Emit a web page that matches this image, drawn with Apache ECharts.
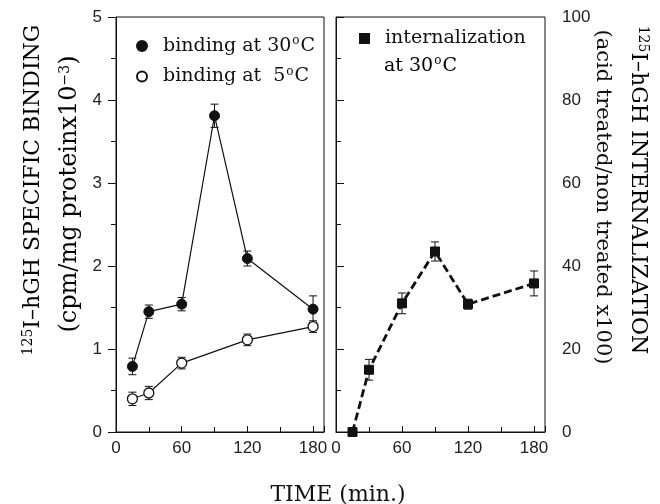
<!DOCTYPE html>
<html>
<head>
<meta charset="utf-8">
<script src="https://cdn.jsdelivr.net/npm/echarts@6/dist/echarts.min.js"></script>
<style>
  html, body { margin: 0; padding: 0; background: #fff; }
  #chart { width: 660px; height: 504px; }
</style>
</head>
<body>
<div id="chart"></div>
<script>
// ---- Data ----
var xTickLabels = [0, 60, 120, 180];
var leftYTicks = [0, 1, 2, 3, 4, 5];
var rightYTicks = [0, 20, 40, 60, 80, 100];

var timeBind30 = [15, 30, 60, 90, 120, 180];
var bind30 = [0.79, 1.45, 1.54, 3.81, 2.09, 1.48];
var bind30Err = [0.10, 0.08, 0.08, 0.14, 0.09, 0.16];

var timeBind5 = [15, 30, 60, 120, 180];
var bind5 = [0.40, 0.47, 0.83, 1.11, 1.27];
var bind5Err = [0.08, 0.08, 0.07, 0.07, 0.07];

var timeIntern = [15, 30, 60, 90, 120, 180];
var intern = [0, 15, 31, 43.5, 30.8, 35.8];
var internErr = [0, 2.5, 2.5, 2.3, 1.2, 3.0];

// ---- helpers ----
function pairs(xs, ys) { return xs.map(function (x, i) { return [x, ys[i]]; }); }
function errData(xs, ys, es) { return xs.map(function (x, i) { return [x, ys[i] - es[i], ys[i] + es[i]]; }); }
function errRender(params, api) {
  var x = api.value(0), lo = api.value(1), hi = api.value(2);
  if (hi - lo <= 0) return;
  var p1 = api.coord([x, lo]), p2 = api.coord([x, hi]);
  var w = 4;
  var st = { stroke: '#111', lineWidth: 1 };
  return { type: 'group', children: [
    { type: 'line', shape: { x1: p1[0], y1: p1[1], x2: p2[0], y2: p2[1] }, style: st },
    { type: 'line', shape: { x1: p1[0] - w, y1: p1[1], x2: p1[0] + w, y2: p1[1] }, style: st },
    { type: 'line', shape: { x1: p2[0] - w, y1: p2[1], x2: p2[0] + w, y2: p2[1] }, style: st }
  ]};
}

var serif = 'DejaVu Serif';
var sans = 'Liberation Sans';
var ink = '#111';

var supRich = {
  n: { fontFamily: serif, fontSize: 19, color: ink },
  sup: { fontFamily: serif, fontSize: 12, color: ink, verticalAlign: 'top', padding: [0, 1, 10, 1] }
};
var legendNames = {
  'b30': 'binding at 30{sup|o}C',
  'b5': 'binding at  5{sup|o}C',
  'int': 'internalization'
};

function xAxisCfg(idx) {
  return {
    type: 'value', gridIndex: idx, min: 0, max: 190, interval: 60,
    axisLine: { show: true, onZero: false, lineStyle: { color: ink, width: 1 } },
    axisTick: { show: true, inside: true, length: 6, lineStyle: { color: ink } },
    minorTick: { show: true, splitNumber: 2, length: 5, lineStyle: { color: ink } },
    axisLabel: {
      fontFamily: sans, fontSize: 17, color: '#222', margin: 8,
      formatter: function (v) { return xTickLabels.indexOf(v) >= 0 ? String(v) : ''; }
    },
    splitLine: { show: false }
  };
}

var titleRich = function (size) {
  return {
    t: { fontFamily: serif, fontSize: size, color: ink },
    sup: { fontFamily: serif, fontSize: 14, color: ink, verticalAlign: 'top', padding: [0, 0, 10, 0] }
  };
};

var option = {
  backgroundColor: '#fff',
  animation: false,
  grid: [
    { left: 116, top: 17, width: 208, height: 415, show: true, borderColor: ink, borderWidth: 1, backgroundColor: 'transparent' },
    { left: 336, top: 17, width: 209, height: 415, show: true, borderColor: ink, borderWidth: 1, backgroundColor: 'transparent' }
  ],
  xAxis: [xAxisCfg(0), xAxisCfg(1)],
  yAxis: [
    {
      type: 'value', gridIndex: 0, min: 0, max: 5, interval: 1, position: 'left',
      axisLine: { show: true, lineStyle: { color: ink } },
      axisTick: { show: true, inside: false, length: 8, lineStyle: { color: ink } },
      minorTick: { show: true, splitNumber: 2, length: 5, lineStyle: { color: ink } },
      axisLabel: { fontFamily: sans, fontSize: 17, color: '#222', margin: 14,
        formatter: function (v) { return leftYTicks.indexOf(v) >= 0 ? String(v) : ''; } },
      splitLine: { show: false }
    },
    {
      type: 'value', gridIndex: 1, min: 0, max: 100, interval: 20, position: 'right',
      axisLine: { show: true, lineStyle: { color: ink } },
      axisTick: { show: true, inside: false, length: 8, lineStyle: { color: ink } },
      minorTick: { show: true, splitNumber: 2, length: 5, lineStyle: { color: ink } },
      axisLabel: { fontFamily: sans, fontSize: 17, color: '#222', margin: 17,
        formatter: function (v) { return rightYTicks.indexOf(v) >= 0 ? String(v) : ''; } },
      splitLine: { show: false }
    }
  ],
  legend: [
    {
      data: ['b30', 'b5'], orient: 'vertical', left: 131, top: 30,
      itemWidth: 10, itemHeight: 10, itemGap: 10,
      icon: 'circle',
      formatter: function (n) { return '{n|' + legendNames[n].replace(/\{sup\|o\}C/, '}{sup|o}{n|C') + '}'; },
      textStyle: { rich: supRich, padding: [0, 0, 0, 11] }
    },
    {
      data: ['int'], orient: 'vertical', left: 354, top: 24,
      itemWidth: 9, itemHeight: 9,
      icon: 'rect',
      formatter: function (n) { return '{n|' + legendNames[n] + '}'; },
      textStyle: { rich: supRich, padding: [0, 0, 0, 11] }
    }
  ],
  graphic: [
    { type: 'text', left: 384, top: 55,
      style: { text: '{n|at 30}{sup|o}{n|C}', rich: supRich } },
    // left axis title
    { type: 'text', x: 33, y: 190, rotation: Math.PI / 2,
      style: { text: '{sup|125}{t|I\u2013hGH SPECIFIC BINDING}', align: 'center', verticalAlign: 'middle',
        rich: titleRich(22) } },
    { type: 'text', x: 70, y: 194, rotation: Math.PI / 2,
      style: { text: '{t|(cpm/mg proteinx10}{sup|\u22123}{t|)}', align: 'center', verticalAlign: 'middle',
        rich: titleRich(24) } },
    // right axis title
    { type: 'text', x: 638, y: 190, rotation: -Math.PI / 2,
      style: { text: '{sup|125}{t|I\u2013hGH INTERNALIZATION}', align: 'center', verticalAlign: 'middle',
        rich: titleRich(22) } },
    { type: 'text', x: 602, y: 197, rotation: -Math.PI / 2,
      style: { text: '(acid treated/non treated x100)', align: 'center', verticalAlign: 'middle',
        font: '21px "DejaVu Serif"', fill: ink } },
    // x axis title
    { type: 'text', x: 338, y: 495,
      style: { text: 'TIME (min.)', align: 'center', verticalAlign: 'middle',
        font: '22px "DejaVu Serif"', fill: ink } }
  ],
  series: [
    { type: 'custom', xAxisIndex: 0, yAxisIndex: 0, renderItem: errRender, data: errData(timeBind30, bind30, bind30Err), z: 1, silent: true },
    { type: 'custom', xAxisIndex: 0, yAxisIndex: 0, renderItem: errRender, data: errData(timeBind5, bind5, bind5Err), z: 1, silent: true },
    { type: 'custom', xAxisIndex: 1, yAxisIndex: 1, renderItem: errRender, data: errData(timeIntern, intern, internErr), z: 1, silent: true },
    {
      name: 'b30', type: 'line', xAxisIndex: 0, yAxisIndex: 0, data: pairs(timeBind30, bind30),
      symbol: 'circle', symbolSize: 10, z: 3,
      lineStyle: { color: ink, width: 1.2 },
      itemStyle: { color: ink, borderColor: ink, borderWidth: 1 }
    },
    {
      name: 'b5', type: 'line', xAxisIndex: 0, yAxisIndex: 0, data: pairs(timeBind5, bind5),
      symbol: 'circle', symbolSize: 10, z: 3,
      lineStyle: { color: ink, width: 1.2 },
      itemStyle: { color: '#fff', borderColor: ink, borderWidth: 1.3 }
    },
    {
      name: 'int', type: 'line', xAxisIndex: 1, yAxisIndex: 1, data: pairs(timeIntern, intern),
      symbol: 'rect', symbolSize: 9, z: 3,
      lineStyle: { color: ink, width: 2.8, type: [8, 4] },
      itemStyle: { color: ink, borderColor: ink, borderWidth: 1 }
    }
  ]
};

var chart = echarts.init(document.getElementById('chart'), null, { renderer: 'canvas' });
chart.setOption(option);
</script>
</body>
</html>
